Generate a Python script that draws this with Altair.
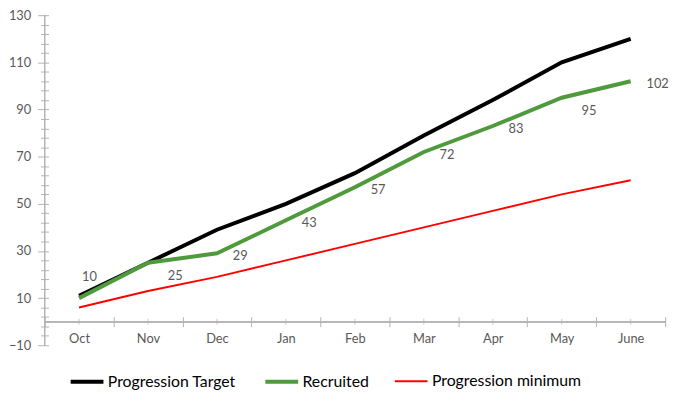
import altair as alt
import pandas as pd

# ---- data ----
months = ["Oct", "Nov", "Dec", "Jan", "Feb", "Mar", "Apr", "May", "June"]
progression_target = [11, 25, 39, 50, 63, 79, 94, 110, 120]
recruited = [10, 25, 29, 43, 57, 72, 83, 95, 102]
progression_minimum = [6, 13, 19, 26, 33, 40, 47, 54, 60]
# where each "Recruited" data label sits relative to its point (as in the reference)
label_place = ["above", "below", "right", "right", "right", "right", "right", "below", "right"]

series_names = ["Progression Target", "Recruited", "Progression minimum"]
series_colors = ["#000000", "#4f9a3c", "#ff0000"]
series_widths = [4, 4, 2]
y_tick_values = list(range(-10, 131, 4))

rows = []
for name, vals in zip(series_names, [progression_target, recruited, progression_minimum]):
    for m, v in zip(months, vals):
        rows.append({"series": name, "month": m, "value": v})
df = pd.DataFrame(rows)
rec_df = pd.DataFrame({"month": months, "value": recruited, "place": label_place})
month_df = pd.DataFrame({"month": months})

W, H = 628, 334
FONT = "Lato"
AXIS_GRAY = "#b3b3b3"
LABEL_GRAY = "#595959"
zero_px = H * 10 / 140

x_scale = alt.Scale(domain=months, paddingInner=0, paddingOuter=0)
y_scale = alt.Scale(domain=[-10, 130], nice=False, zero=False)

x_axis = alt.Axis(
    title=None, domain=False, grid=False, tickBand="extent", tickSize=10,
    tickColor=AXIS_GRAY, offset=-(zero_px + 5), labelPadding=6,
    labelColor=LABEL_GRAY, labelFontSize=13, labelFont=FONT, labelAngle=0,
)
y_axis = alt.Axis(
    title=None, domain=False, grid=False, values=y_tick_values,
    tickSize={"condition": {"test": "(datum.value + 10) % 20 == 0", "value": 11}, "value": 8},
    tickColor=AXIS_GRAY, offset=-4,
    labelExpr="(datum.value + 10) % 20 == 0 ? datum.label : ''",
    labelOverlap=False, labelFlush=False, labelPadding=7,
    labelColor=LABEL_GRAY, labelFontSize=13, labelFont=FONT,
)

X = alt.X("month:N", scale=x_scale, axis=x_axis)
Y = alt.Y("value:Q", scale=y_scale, axis=y_axis)

legend = alt.Legend(
    title=None, orient="none", legendX=24, legendY=352, direction="horizontal",
    columns=3, symbolType="stroke", symbolSize=1100, labelFont=FONT,
    labelFontSize=16, labelColor="#000000", columnPadding=21, labelOffset=2,
)

lines = alt.Chart(df).mark_line().encode(
    x=X, y=Y,
    color=alt.Color("series:O", sort=series_names,
                    scale=alt.Scale(type="ordinal", domain=series_names, range=series_colors),
                    legend=legend),
    strokeWidth=alt.StrokeWidth("series:O", sort=series_names,
                                scale=alt.Scale(type="ordinal", domain=series_names, range=series_widths),
                                legend=legend),
)

labels = alt.Chart(rec_df).mark_text(
    align="left", baseline="middle", font=FONT, fontSize=13, color=LABEL_GRAY,
    dx=alt.expr("datum.place === 'above' ? 3 : (datum.place === 'below' ? 20 : 16)"),
    dy=alt.expr("datum.place === 'above' ? -21 : (datum.place === 'below' ? 13 : 3)"),
).encode(x=X, y=Y, text="value:Q")

y_line = alt.Chart(month_df).mark_rule(color=AXIS_GRAY, strokeWidth=1).encode(x=alt.value(0))
zero_line = alt.Chart(month_df).mark_rule(color=AXIS_GRAY, strokeWidth=1).encode(
    y=alt.YDatum(0, scale=y_scale, axis=y_axis)
)
center_ticks = alt.Chart(month_df).mark_tick(
    orient="vertical", size=6, thickness=1, color=AXIS_GRAY
).encode(x=X, y=alt.YDatum(0, scale=y_scale, axis=y_axis))

chart = alt.layer(y_line, zero_line, center_ticks, lines, labels).properties(
    width=W, height=H,
    autosize=alt.AutoSizeParams(type="none"),
    padding={"left": 37, "right": 12, "top": 5, "bottom": 46},
    background="white",
).configure_view(stroke=None)

chart.save("out.html", embed_options={"renderer": "svg", "actions": False})
